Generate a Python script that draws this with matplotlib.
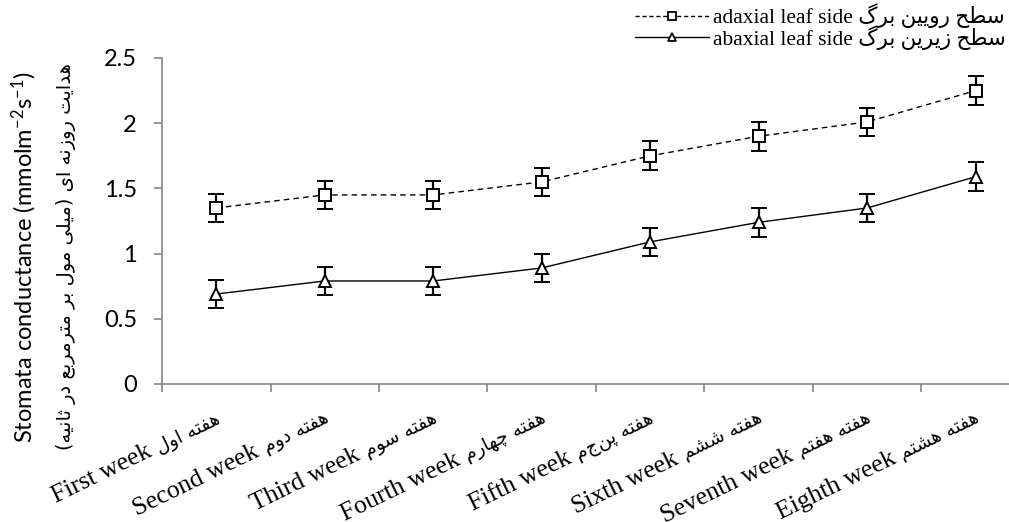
import numpy as np
import matplotlib
matplotlib.use("Agg")
import matplotlib.pyplot as plt
from matplotlib.lines import Line2D
from matplotlib.font_manager import FontProperties

# weekly stomatal conductance, two leaf sides
weeks_en = ["First week", "Second week", "Third week", "Fourth week",
            "Fifth week", "Sixth week", "Seventh week", "Eighth week"]
weeks_fa = ["هفته اول", "هفته دوم", "هفته سوم", "هفته چهارم",
            "هفته پنجم", "هفته ششم", "هفته هفتم", "هفته هشتم"]
adaxial = [1.35, 1.45, 1.45, 1.55, 1.75, 1.90, 2.01, 2.25]
abaxial = [0.69, 0.79, 0.79, 0.89, 1.09, 1.24, 1.35, 1.59]
adaxial_err = [0.11] * 8
abaxial_err = [0.11] * 8
yticks = [0, 0.5, 1, 1.5, 2, 2.5]
ytick_labels = ["0", "0.5", "1", "1.5", "2", "2.5"]

# matplotlib has no arabic shaping, so pick presentation forms by hand
# (isolated, final, initial, medial)
FORMS = {
    'ا': ('\uFE8D', '\uFE8E', None, None),
    'ب': ('\uFE8F', '\uFE90', '\uFE91', '\uFE92'),
    'ت': ('\uFE95', '\uFE96', '\uFE97', '\uFE98'),
    'ث': ('\uFE99', '\uFE9A', '\uFE9B', '\uFE9C'),
    'ح': ('\uFEA1', '\uFEA2', '\uFEA3', '\uFEA4'),
    'د': ('\uFEA9', '\uFEAA', None, None),
    'ر': ('\uFEAD', '\uFEAE', None, None),
    'ز': ('\uFEAF', '\uFEB0', None, None),
    'س': ('\uFEB1', '\uFEB2', '\uFEB3', '\uFEB4'),
    'ش': ('\uFEB5', '\uFEB6', '\uFEB7', '\uFEB8'),
    'ط': ('\uFEC1', '\uFEC2', '\uFEC3', '\uFEC4'),
    'ع': ('\uFEC9', '\uFECA', '\uFECB', '\uFECC'),
    'ف': ('\uFED1', '\uFED2', '\uFED3', '\uFED4'),
    'ل': ('\uFEDD', '\uFEDE', '\uFEDF', '\uFEE0'),
    'م': ('\uFEE1', '\uFEE2', '\uFEE3', '\uFEE4'),
    'ن': ('\uFEE5', '\uFEE6', '\uFEE7', '\uFEE8'),
    'ه': ('\uFEE9', '\uFEEA', '\uFEEB', '\uFEEC'),
    'و': ('\uFEED', '\uFEEE', None, None),
    'ی': ('\uFBFC', '\uFBFD', '\uFBFE', '\uFBFF'),
    'پ': ('\uFB56', '\uFB57', '\uFB58', '\uFB59'),
    'چ': ('\uFB7A', '\uFB7B', '\uFB7C', '\uFB7D'),
    'گ': ('\uFB92', '\uFB93', '\uFB94', '\uFB95'),
}


def rtl(s):
    out = []
    for i, ch in enumerate(s):
        if ch not in FORMS:
            out.append(ch)
            continue
        prev = s[i - 1] if i > 0 else ''
        nxt = s[i + 1] if i + 1 < len(s) else ''
        f = FORMS[ch]
        jp = prev in FORMS and FORMS[prev][2] is not None
        jn = f[2] is not None and nxt in FORMS
        if jp and jn:
            out.append(f[3])
        elif jp:
            out.append(f[1])
        elif jn:
            out.append(f[2])
        else:
            out.append(f[0])
    mirror = {'(': ')', ')': '('}
    return ''.join(mirror.get(c, c) for c in reversed(out))


plt.rcParams['mathtext.fontset'] = 'custom'
plt.rcParams['mathtext.rm'] = 'Lato'
plt.rcParams['mathtext.it'] = 'Lato:italic'

SERIF = ['Liberation Serif', 'DejaVu Sans']
SANS = 'Lato'
GREY = '#868686'

fig = plt.figure(figsize=(10.09, 5.22), dpi=100)
ax = fig.add_axes([162 / 1009, 1 - 384 / 522, 868 / 1009, (384 - 58) / 522])

x = np.arange(len(weeks_en))
ax.errorbar(x, adaxial, yerr=adaxial_err, color='black', lw=1.0, ls=(0, (4, 3)),
            marker='s', ms=8, mfc='white', mec='black', mew=1.4,
            ecolor='black', elinewidth=1.6, capsize=5.5, capthick=1.6, zorder=3)
ax.errorbar(x, abaxial, yerr=abaxial_err, color='black', lw=1.0, ls='-',
            marker='^', ms=8, mfc='white', mec='black', mew=1.4,
            ecolor='black', elinewidth=1.6, capsize=5.5, capthick=1.6, zorder=3)

ax.set_xlim(-0.5, 7.5)
ax.set_ylim(0, 2.5)
ax.set_xticks(np.arange(-0.5, 8, 1))
ax.set_xticklabels([])
ax.set_yticks(yticks)
ax.set_yticklabels(ytick_labels, fontfamily=SANS, fontsize=17)
for s in ['top', 'right']:
    ax.spines[s].set_visible(False)
for s in ['left', 'bottom']:
    ax.spines[s].set_color(GREY)
    ax.spines[s].set_linewidth(1.2)
ax.tick_params(axis='both', direction='out', length=6, width=1.2, color=GREY)
ax.tick_params(axis='y', pad=12)

# y axis titles, english and persian
fig.text(24 / 1009, 1 - 257 / 522, "Stomata conductance (mmolm$^{-2}$s$^{-1}$)",
         rotation=90, ha='center', va='center', fontfamily=SANS, fontsize=17)
fig.text(66 / 1009, 1 - 257 / 522, rtl("هدایت روزنه ای (میلی مول بر مترمربع در ثانیه)"),
         rotation=90, ha='center', va='center', fontfamily='DejaVu Sans', fontsize=14)

# slanted category labels: persian part at the tick, english before it
fig.canvas.draw()
renderer = fig.canvas.get_renderer()
ang = 26
ox, oy = 5, -38
fa_prop = FontProperties(family='DejaVu Sans', size=13.5)
for i, (en, fa) in enumerate(zip(weeks_en, weeks_fa)):
    txt = rtl(fa)
    ax.annotate(txt, xy=(i, 0), xycoords=('data', 'axes fraction'),
                xytext=(ox, oy), textcoords='offset pixels',
                rotation=ang, rotation_mode='anchor', ha='right', va='baseline',
                fontproperties=fa_prop)
    w, h, d = renderer.get_text_width_height_descent(txt, fa_prop, ismath=False)
    step = w + 7
    dx = ox - step * np.cos(np.deg2rad(ang))
    dy = oy - step * np.sin(np.deg2rad(ang))
    ax.annotate(en, xy=(i, 0), xycoords=('data', 'axes fraction'),
                xytext=(dx, dy), textcoords='offset pixels',
                rotation=ang, rotation_mode='anchor', ha='right', va='baseline',
                fontfamily='Liberation Serif', fontsize=18.5)

handles = [
    Line2D([], [], color='black', lw=1.0, ls=(0, (3, 2)), marker='s', ms=6,
           mfc='white', mec='black', mew=1.3),
    Line2D([], [], color='black', lw=1.0, ls='-', marker='^', ms=6,
           mfc='white', mec='black', mew=1.3),
]
labels = ["adaxial leaf side " + rtl("سطح رویین برگ"),
          "abaxial leaf side " + rtl("سطح زیرین برگ")]
fig.legend(handles, labels, loc='upper right', bbox_to_anchor=(1.0, 1.0),
           frameon=False, prop=FontProperties(family=SERIF, size=15.5),
           handlelength=3.4, handletextpad=0.2, labelspacing=-0.15,
           borderpad=0.15, borderaxespad=0.0)

fig.savefig("out.png", dpi=100)
